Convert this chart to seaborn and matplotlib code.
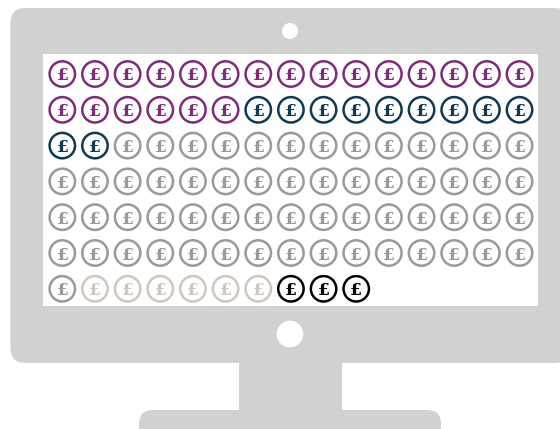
import matplotlib
matplotlib.use("Agg")
import matplotlib.pyplot as plt
from matplotlib.patches import FancyBboxPatch, Rectangle, Circle
import pandas as pd
import seaborn as sns

# Values
categories = ["purple", "navy", "grey", "beige", "black"]
counts = [21, 11, 59, 6, 3]
colors = ["#7F2A7A", "#0F3A54", "#9A9A97", "#CFC7BE", "#000000"]
per_row = 15

# One row per coin, filled left to right
labels = []
for name, n in zip(categories, counts):
    labels += [name] * n
df = pd.DataFrame({"category": labels})
df["col"] = [i % per_row for i in range(len(df))]
df["row"] = [i // per_row for i in range(len(df))]
df["x"] = 62.3 + df["col"] * 32.66
df["y"] = 74 + df["row"] * 35.8

sns.set_theme(style="white")
fig, ax = plt.subplots(figsize=(5.6, 4.29), dpi=100)
fig.subplots_adjust(left=0, right=1, bottom=0, top=1)

# Monitor
grey = "#D1D1CF"
ax.add_patch(FancyBboxPatch((25.5, 23), 529, 325, boxstyle="round,pad=15,rounding_size=15", fc=grey, ec="none"))
ax.add_patch(Rectangle((239, 360), 103, 55, fc=grey, ec="none"))
ax.add_patch(FancyBboxPatch((153, 424), 274, 30, boxstyle="round,pad=14,rounding_size=14", fc=grey, ec="none"))
ax.add_patch(Rectangle((43, 54), 495, 251.5, fc="white", ec="none"))
ax.add_patch(Circle((290, 31), 8, fc="white", ec="none"))
ax.add_patch(Circle((290, 334), 13.3, fc="white", ec="none"))

# Coins
sns.scatterplot(data=df, x="x", y="y", hue="category", hue_order=categories,
                palette=colors, s=335, legend=False, ax=ax, zorder=3)
coin_colors = [colors[categories.index(c)] for c in df["category"]]
coins = ax.collections[-1]
coins.set_facecolor("white")
coins.set_edgecolor(coin_colors)
coins.set_linewidth(1.8)

for x, y, c in zip(df["x"], df["y"], coin_colors):
    ax.text(x, y, "£", color=c, fontsize=12.5, fontweight="bold", family="DejaVu Serif",
            ha="center", va="center_baseline", zorder=4)

ax.set_xlim(0, 560)
ax.set_ylim(429, 0)
ax.axis("off")

fig.savefig("out.png", dpi=100)
